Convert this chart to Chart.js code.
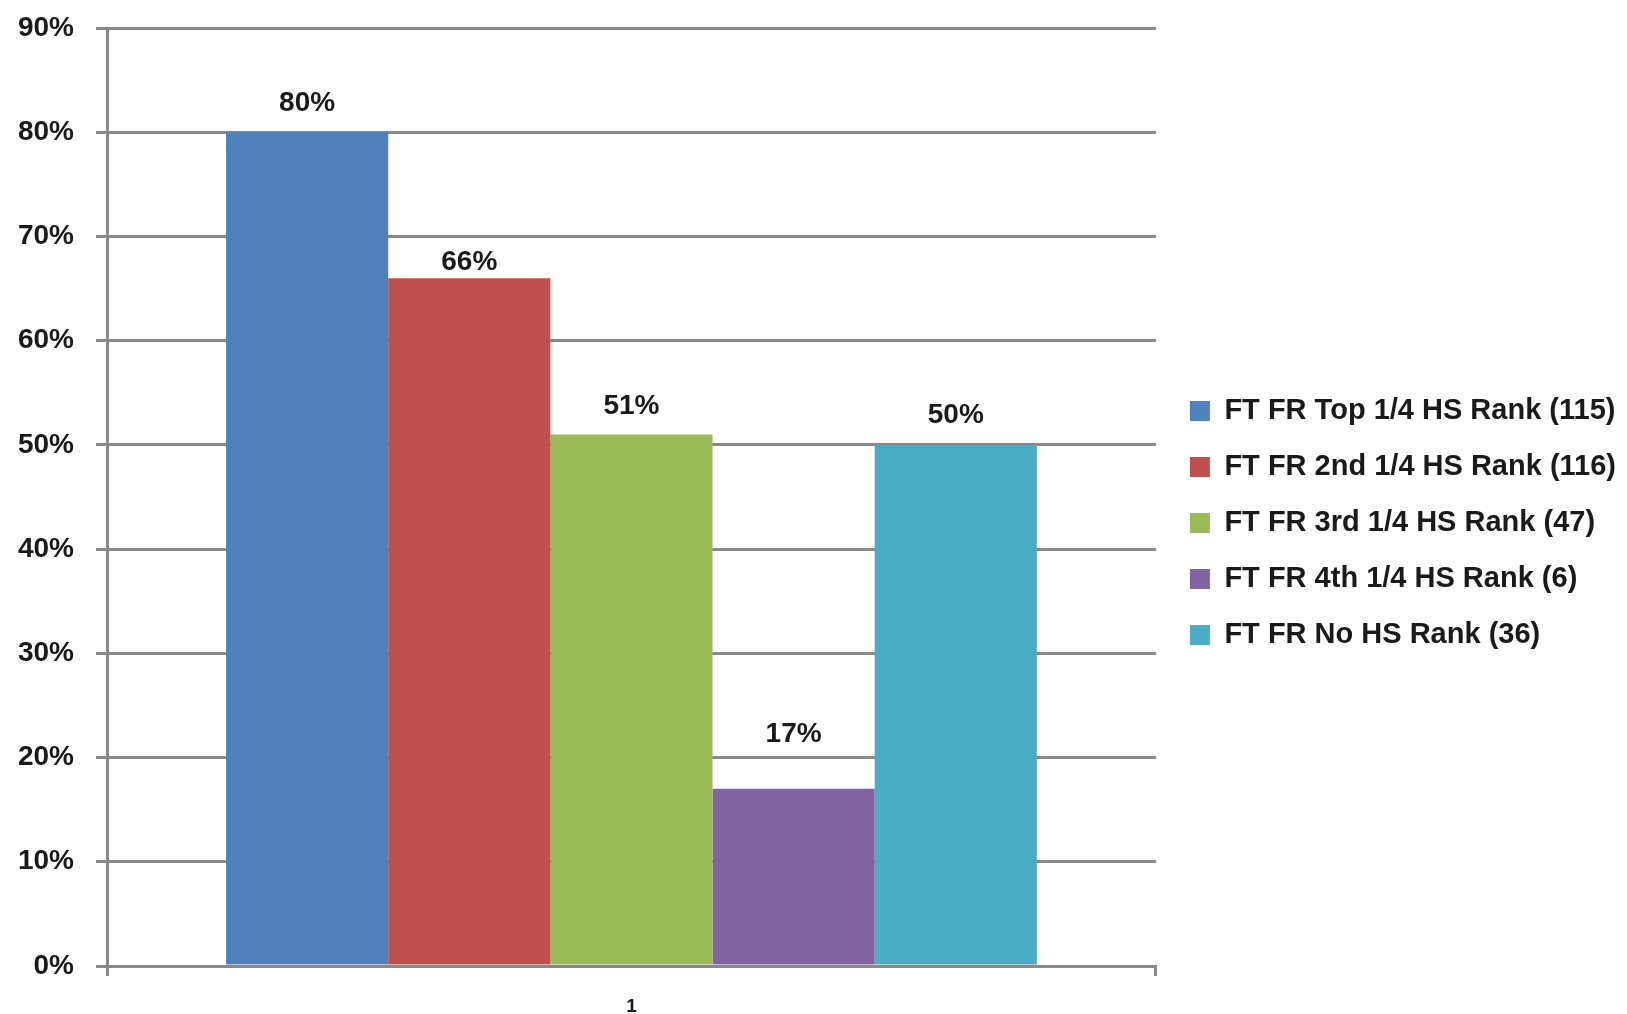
<!DOCTYPE html>
<html>
<head>
<meta charset="utf-8">
<script src="https://cdn.jsdelivr.net/npm/chart.js@4/dist/chart.umd.min.js"></script>
<style>
  html, body { margin: 0; padding: 0; background: #ffffff; }
  canvas { display: block; }
</style>
</head>
<body>
<canvas id="myChart" width="1627" height="1014"></canvas>
<script>
// chart data
const categories = ['1'];
const seriesNames = [
  'FT FR Top 1/4 HS Rank (115)',
  'FT FR 2nd 1/4 HS Rank (116)',
  'FT FR 3rd 1/4 HS Rank (47)',
  'FT FR 4th 1/4 HS Rank (6)',
  'FT FR No HS Rank (36)'
];
const seriesValues = [0.80, 0.66, 0.51, 0.17, 0.50];
const yTickLabels = ['0%', '10%', '20%', '30%', '40%', '50%', '60%', '70%', '80%', '90%'];

const colors = ['#4F81BD', '#C0504D', '#9BBB59', '#8064A2', '#4BACC6'];
// how far above each bar top the value label sits (px)
const labelLift = [29, 16, 28, 55, 30];
const gridGray = '#898989';

Chart.defaults.font.family = "'Liberation Sans', Arial, sans-serif";
Chart.defaults.color = '#1a1a1a';

const datasets = seriesNames.map((name, i) => ({
  label: name,
  data: [seriesValues[i]],
  backgroundColor: colors[i],
  borderWidth: 0,
  categoryPercentage: 0.773,
  barPercentage: 1.0
}));

// value labels above bars
const barLabels = {
  id: 'barLabels',
  afterDatasetsDraw(chart) {
    const ctx = chart.ctx;
    ctx.save();
    ctx.font = 'bold 28px "Liberation Sans", Arial, sans-serif';
    ctx.fillStyle = '#1a1a1a';
    ctx.textAlign = 'center';
    ctx.textBaseline = 'middle';
    chart.data.datasets.forEach((ds, i) => {
      const bar = chart.getDatasetMeta(i).data[0];
      const text = Math.round(ds.data[0] * 100) + '%';
      ctx.fillText(text, bar.x, bar.y - labelLift[i]);
    });
    ctx.restore();
  }
};

// nudge the legend a bit away from the plot
const legendNudge = {
  id: 'legendNudge',
  afterLayout(chart) {
    const lg = chart.legend;
    lg.left += 7;
    lg.right += 7;
    lg.top += 2;
    lg.bottom += 2;
  }
};

new Chart(document.getElementById('myChart').getContext('2d'), {
  type: 'bar',
  data: {
    labels: categories,
    datasets: datasets
  },
  options: {
    responsive: false,
    animation: false,
    layout: {
      padding: { top: 28, left: 0, right: 8, bottom: 0 }
    },
    plugins: {
      tooltip: { enabled: false },
      legend: {
        position: 'right',
        maxWidth: 472,
        labels: {
          boxWidth: 20,
          boxHeight: 20,
          padding: 27,
          color: '#1a1a1a',
          font: { size: 29, weight: 'bold' }
        }
      }
    },
    scales: {
      x: {
        afterFit: s => { s.height = 48; },
        grid: {
          offset: true,
          drawOnChartArea: false,
          drawTicks: true,
          tickLength: 10,
          lineWidth: 3,
          color: gridGray
        },
        border: { display: true, color: gridGray, width: 3 },
        ticks: {
          padding: 19,
          color: '#1a1a1a',
          font: { size: 19, weight: 'bold' }
        }
      },
      y: {
        min: 0,
        max: 0.9,
        afterFit: s => {
          s.width = 107;
          s.paddingTop = 0;
          s.paddingBottom = 0;
        },
        grid: {
          color: gridGray,
          lineWidth: 3,
          tickLength: 11
        },
        border: { display: true, color: gridGray, width: 3 },
        ticks: {
          stepSize: 0.1,
          padding: 22,
          color: '#1a1a1a',
          font: { size: 28, weight: 'bold' },
          callback: (value, index) => yTickLabels[index]
        }
      }
    }
  },
  plugins: [barLabels, legendNudge]
});
</script>
</body>
</html>
